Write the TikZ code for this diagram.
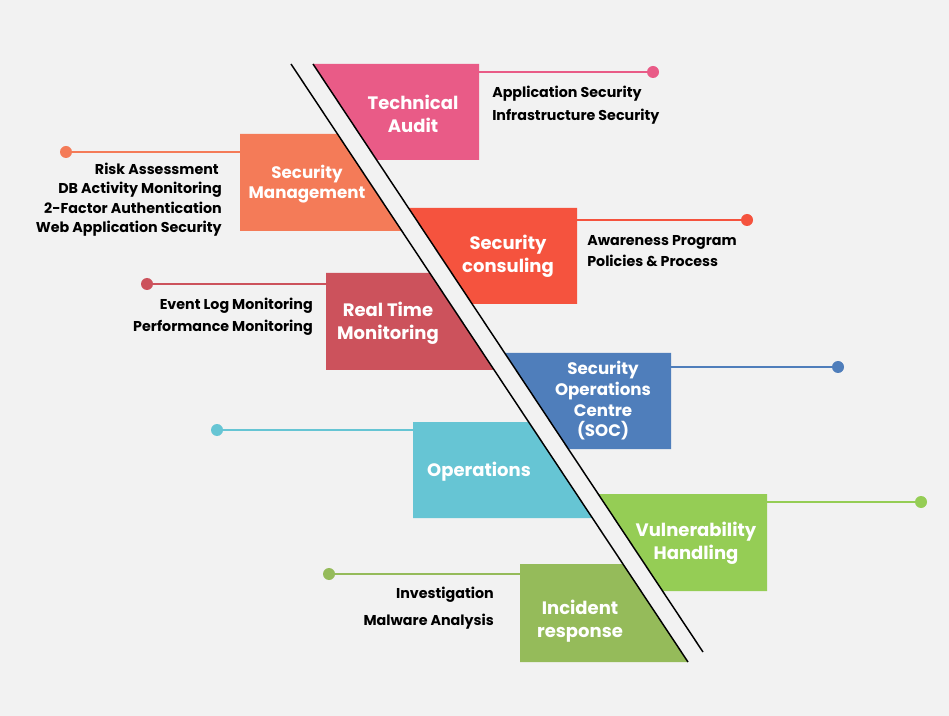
\documentclass[tikz,border=0pt]{standalone}
\usepackage{fontspec}
\setmainfont{Poppins}
\begin{document}
\begin{tikzpicture}[x=0.75pt,y=-0.75pt,
  dot/.style={circle,fill=#1,inner sep=0pt,minimum size=9pt},
  conn/.style={draw=#1,line width=1.5pt},
  lbl/.style={text=white,font=\fontsize{13.5}{17}\selectfont\bfseries,align=center},
  lbls/.style={text=white,font=\fontsize{12.5}{15.5}\selectfont\bfseries,align=center},
  itemr/.style={font=\fontsize{10.7}{14.6}\selectfont\bfseries,anchor=base west,inner sep=0pt},
  iteml/.style={font=\fontsize{10.7}{14.6}\selectfont\bfseries,anchor=base east,inner sep=0pt},
  sep/.style={draw=black,line width=1.1pt}]
\definecolor{bg}{HTML}{F2F2F2}
\definecolor{cTA}{HTML}{E95B87}
\definecolor{cSM}{HTML}{F47B58}
\definecolor{cSC}{HTML}{F5533E}
\definecolor{cRT}{HTML}{CC525C}
\definecolor{cSO}{HTML}{4F7EBB}
\definecolor{cOP}{HTML}{66C5D4}
\definecolor{cVH}{HTML}{95CD55}
\definecolor{cIR}{HTML}{95BB5A}
\fill[bg] (0,0) rectangle (949,716);
\useasboundingbox (0,0) rectangle (949,716);
% boxes
\fill[cTA] (313,64) -- (479,64) -- (479,160) -- (376.7,160) -- cycle;
\fill[cSM] (240,134) -- (337.4,134) -- (401.8,231) -- (240,231) -- cycle;
\fill[cSC] (408.5,208) -- (577,208) -- (577,304) -- (472.2,304) -- cycle;
\fill[cRT] (326,273) -- (429.7,273) -- (494,370) -- (326,370) -- cycle;
\fill[cSO] (504.8,353) -- (671,353) -- (671,449) -- (568.4,449) -- cycle;
\fill[cOP] (413,422) -- (528.5,422) -- (592.2,518) -- (413,518) -- cycle;
\fill[cVH] (598.3,494) -- (767,494) -- (767,591) -- (662.7,591) -- cycle;
\fill[cIR] (520,564) -- (622.8,564) -- (687.8,662) -- (520,662) -- cycle;
% separator lines
\coordinate (l1) at (291,64); \coordinate (l2) at (688,662);
\coordinate (r1) at (313,64); \coordinate (r2) at (703,652);
\draw[sep] (l1) -- (l2);
\draw[sep] (r1) -- (r2);
% box labels
\node[lbl] (tTA) at (413,114) {Technical\\Audit};
\node[lbls] (tSM) at (307,184) {Security\\Management};
\node[lbl] (tSC) at (508,256) {Security\\consuling};
\node[lbl] (tRT) at (388,323) {Real Time\\Monitoring};
\node[lbls] (tSO) at (603,401) {Security\\Operations\\Centre\\(SOC)};
\node[lbl] (tOP) at (479,472) {Operations};
\node[lbl] (tVH) at (696,543) {Vulnerability\\Handling};
\node[lbl] (tIR) at (580,621) {Incident\\response};
% connectors
\coordinate (bTA) at (479,72);  \node[dot=cTA] (dTA) at (653,72) {};
\coordinate (bSM) at (240,152); \node[dot=cSM] (dSM) at (66,152) {};
\coordinate (bSC) at (577,220); \node[dot=cSC] (dSC) at (747,220) {};
\coordinate (bRT) at (326,284); \node[dot=cRT] (dRT) at (147,284) {};
\coordinate (bSO) at (671,367); \node[dot=cSO] (dSO) at (838,367) {};
\coordinate (bOP) at (413,430); \node[dot=cOP] (dOP) at (217,430) {};
\coordinate (bVH) at (767,502); \node[dot=cVH] (dVH) at (921,502) {};
\coordinate (bIR) at (520,574); \node[dot=cIR] (dIR) at (329,574) {};
\draw[conn=cTA] (bTA) -- (dTA);
\draw[conn=cSM] (bSM) -- (dSM);
\draw[conn=cSC] (bSC) -- (dSC);
\draw[conn=cRT] (bRT) -- (dRT);
\draw[conn=cSO] (bSO) -- (dSO);
\draw[conn=cOP] (bOP) -- (dOP);
\draw[conn=cVH] (bVH) -- (dVH);
\draw[conn=cIR] (bIR) -- (dIR);
% item texts
\node[itemr] (iTA1) at (492,97.5) {Application Security};
\node[itemr] (iTA2) at (492,120.5) {Infrastructure Security};
\node[iteml] (iSM1) at (219,174.5) {Risk Assessment};
\node[iteml] (iSM2) at (222,193.5) {DB Activity Monitoring};
\node[iteml] (iSM3) at (222,213.5) {2-Factor Authentication};
\node[iteml] (iSM4) at (222,232.5) {Web Application Security};
\node[itemr] (iSC1) at (587,245.5) {Awareness Program};
\node[itemr] (iSC2) at (587,266.5) {Policies \& Process};
\node[iteml] (iRT1) at (313,309.5) {Event Log Monitoring};
\node[iteml] (iRT2) at (313,331.5) {Performance Monitoring};
\node[iteml] (iIR1) at (494,598.5) {Investigation};
\node[iteml] (iIR2) at (494,625.5) {Malware Analysis};
\end{tikzpicture}
\end{document}
